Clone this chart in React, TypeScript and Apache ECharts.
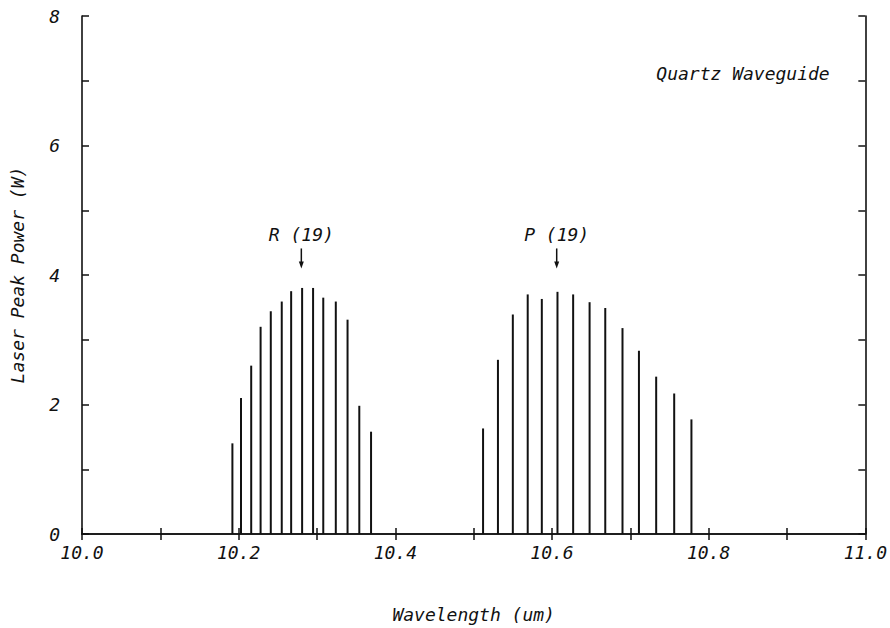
import React, { useEffect, useRef } from "react";
import * as echarts from "echarts";

const rWavelength = [10.192, 10.203, 10.216, 10.228, 10.241, 10.255, 10.267, 10.281, 10.295, 10.308, 10.324, 10.339, 10.354, 10.369];
const rPower = [1.40, 2.10, 2.60, 3.20, 3.44, 3.59, 3.75, 3.80, 3.80, 3.65, 3.59, 3.31, 1.98, 1.58];
const pWavelength = [10.512, 10.531, 10.550, 10.569, 10.587, 10.607, 10.627, 10.648, 10.668, 10.690, 10.711, 10.733, 10.756, 10.778];
const pPower = [1.63, 2.69, 3.39, 3.70, 3.63, 3.74, 3.70, 3.58, 3.49, 3.18, 2.83, 2.43, 2.17, 1.77];

const arrowLabels = ["R (19)", "P (19)"];
const arrowX = [10.280, 10.606];
const arrowTop = [4.41, 4.41];
const arrowTip = [4.10, 4.10];
const arrowLabelY = [4.62, 4.62];

const FONT = "DejaVu Sans Mono";
const INK = "#111";
const FS = 18;

export default function App() {
  const ref = useRef<HTMLDivElement>(null);
  useEffect(() => {
    document.body.style.margin = "0";
    const chart = echarts.init(ref.current!, null, { renderer: "svg" });
    const textStyle = { fontFamily: FONT, fontStyle: "italic", fontSize: FS, color: INK };
    const lineRender = (params: any, api: any) => {
      const x = api.value(0);
      const y = api.value(1);
      const p0 = api.coord([x, 0]);
      const p1 = api.coord([x, y]);
      return {
        type: "line",
        shape: { x1: p0[0], y1: p0[1], x2: p1[0], y2: p1[1] },
        style: { stroke: INK, lineWidth: 2 },
      };
    };
    const tickCommon = {
      axisLine: { show: true, lineStyle: { color: INK, width: 1.6 } },
      axisTick: { show: true, inside: true, length: 6, lineStyle: { color: INK, width: 1.5 } },
      minorTick: { show: true, splitNumber: 2, length: 6, lineStyle: { color: INK, width: 1.5 } },
      splitLine: { show: false },
      minorSplitLine: { show: false },
    };
    chart.setOption({
      animation: false,
      backgroundColor: "#fff",
      grid: { left: 82, right: 20, top: 16, bottom: 94, containLabel: false },
      xAxis: [
        {
          type: "value",
          min: 10,
          max: 11,
          interval: 0.2,
          position: "bottom",
          ...tickCommon,
          axisLabel: { ...textStyle, margin: 9, formatter: (v: number) => v.toFixed(1) },
          name: "Wavelength (um)",
          nameLocation: "middle",
          nameGap: 71,
          nameTextStyle: { ...textStyle },
        },
        {
          type: "value",
          min: 10,
          max: 11,
          interval: 0.2,
          position: "top",
          ...tickCommon,
          axisLabel: { show: false },
        },
      ],
      yAxis: [
        {
          type: "value",
          min: 0,
          max: 8,
          interval: 2,
          position: "left",
          ...tickCommon,
          axisTick: { ...tickCommon.axisTick, length: 7 },
          minorTick: { ...tickCommon.minorTick, length: 7 },
          axisLabel: { ...textStyle, margin: 22 },
          name: "Laser Peak Power (W)",
          nameLocation: "middle",
          nameGap: 56,
          nameTextStyle: { ...textStyle },
        },
        {
          type: "value",
          min: 0,
          max: 8,
          interval: 2,
          position: "right",
          ...tickCommon,
          axisTick: { ...tickCommon.axisTick, length: 7 },
          minorTick: { ...tickCommon.minorTick, length: 7 },
          axisLabel: { show: false },
        },
      ],
      series: [
        {
          type: "custom",
          name: "R branch",
          xAxisIndex: 0,
          yAxisIndex: 0,
          renderItem: lineRender,
          encode: { x: 0, y: 1 },
          data: rWavelength.map((w, i) => [w, rPower[i]]),
        },
        {
          type: "custom",
          name: "P branch",
          xAxisIndex: 0,
          yAxisIndex: 0,
          renderItem: lineRender,
          encode: { x: 0, y: 1 },
          data: pWavelength.map((w, i) => [w, pPower[i]]),
        },
        {
          type: "custom",
          name: "Markers",
          xAxisIndex: 0,
          yAxisIndex: 0,
          encode: { x: 0, y: 1 },
          renderItem: (params: any, api: any) => {
            const i = params.dataIndex;
            const top = api.coord([arrowX[i], arrowTop[i]]);
            const tip = api.coord([arrowX[i], arrowTip[i]]);
            const lab = api.coord([arrowX[i], arrowLabelY[i]]);
            return {
              type: "group",
              children: [
                {
                  type: "line",
                  shape: { x1: top[0], y1: top[1], x2: tip[0], y2: tip[1] - 4 },
                  style: { stroke: INK, lineWidth: 1.5 },
                },
                {
                  type: "polygon",
                  shape: {
                    points: [
                      [tip[0] - 2.5, tip[1] - 7],
                      [tip[0] + 2.5, tip[1] - 7],
                      [tip[0], tip[1]],
                    ],
                  },
                  style: { fill: INK },
                },
                {
                  type: "text",
                  x: lab[0],
                  y: lab[1],
                  style: {
                    text: arrowLabels[i],
                    fontFamily: FONT,
                    fontStyle: "italic",
                    fontSize: FS,
                    fill: INK,
                    align: "center",
                    verticalAlign: "middle",
                  },
                },
              ],
            };
          },
          data: arrowX.map((x, i) => [x, arrowTop[i]]),
        },
      ],
      graphic: [
        {
          type: "text",
          x: 743,
          y: 73,
          style: {
            text: "Quartz Waveguide",
            fontFamily: FONT,
            fontStyle: "italic",
            fontSize: FS,
            fill: INK,
            align: "center",
            verticalAlign: "middle",
          },
        },
      ],
    });
    return () => chart.dispose();
  }, []);
  return <div ref={ref} style={{ width: 890, height: 628 }} />;
}
